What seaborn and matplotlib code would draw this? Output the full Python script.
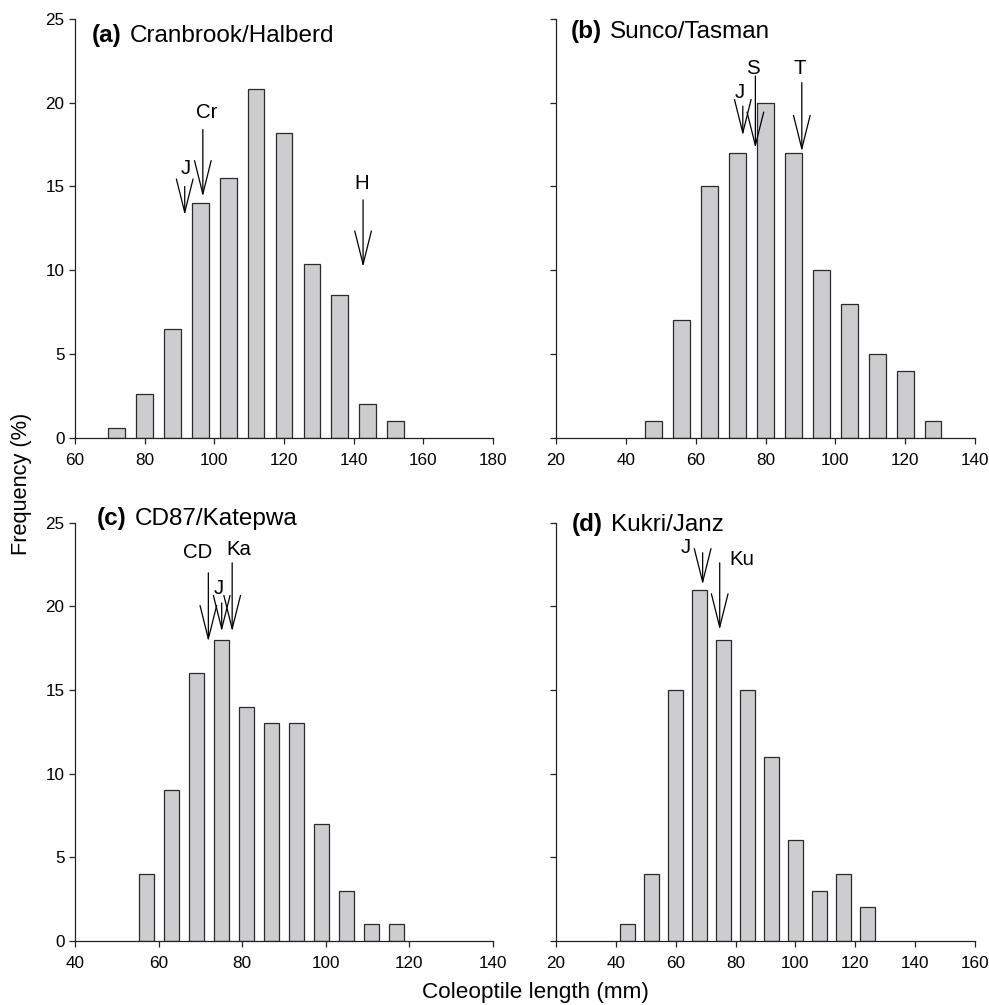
import matplotlib
matplotlib.use("Agg")
import matplotlib.pyplot as plt
import seaborn as sns
import pandas as pd

# ---------------- data ----------------
a_len = [72, 80, 88, 96, 104, 112, 120, 128, 136, 144, 152]
a_freq = [0.6, 2.6, 6.5, 14.0, 15.5, 20.8, 18.2, 10.4, 8.5, 2.0, 1.0]
b_len = [48, 56, 64, 72, 80, 88, 96, 104, 112, 120, 128]
b_freq = [1, 7, 15, 17, 20, 17, 10, 8, 5, 4, 1]
c_len = [57, 63, 69, 75, 81, 87, 93, 99, 105, 111, 117]
c_freq = [4, 9, 16, 18, 14, 13, 13, 7, 3, 1, 1]
d_len = [44, 52, 60, 68, 76, 84, 92, 100, 108, 116, 124]
d_freq = [1, 4, 15, 21, 18, 15, 11, 6, 3, 4, 2]

panel_tags = ["(a)", "(b)", "(c)", "(d)"]
panel_names = ["Cranbrook/Halberd", "Sunco/Tasman", "CD87/Katepwa", "Kukri/Janz"]
x_ticks_a = [60, 80, 100, 120, 140, 160, 180]
x_ticks_b = [20, 40, 60, 80, 100, 120, 140]
x_ticks_c = [40, 60, 80, 100, 120, 140]
x_ticks_d = [20, 40, 60, 80, 100, 120, 140, 160]
y_ticks = [0, 5, 10, 15, 20, 25]

# parent means: label, x, arrow tip y, arrow tail y, label x, label y
parents_a = [("J", 91.5, 13.3, 15.0, 91.9, 16.05),
             ("Cr", 96.7, 14.4, 18.4, 97.9, 19.4),
             ("H", 142.7, 10.2, 14.2, 142.3, 15.2)]
parents_b = [("J", 73.5, 18.05, 19.8, 72.5, 20.6),
             ("S", 77.1, 17.3, 21.6, 76.3, 22.05),
             ("T", 90.4, 17.1, 21.2, 89.7, 22.05)]
parents_c = [("CD", 71.9, 17.9, 22.0, 69.3, 23.2),
             ("J", 75.1, 18.5, 20.2, 74.5, 21.05),
             ("Ka", 77.6, 18.5, 22.6, 79.2, 23.4)]
parents_d = [("J", 69.0, 21.3, 23.2, 63.2, 23.5),
             ("Ku", 74.7, 18.6, 22.6, 82.0, 22.8)]

# ---------------- style ----------------
sns.set_style("ticks")
plt.rcParams["font.family"] = ["Liberation Sans", "DejaVu Sans"]
plt.rcParams["axes.linewidth"] = 0.9
plt.rcParams["axes.edgecolor"] = "#222222"
plt.rcParams["text.color"] = "black"
plt.rcParams["axes.labelcolor"] = "black"
plt.rcParams["xtick.labelcolor"] = "black"
plt.rcParams["ytick.labelcolor"] = "black"

BAR = "#cdcdd0"
EDGE = "#2a2a2a"

fig = plt.figure(figsize=(9.89, 10.05), dpi=100)
W, H = 989, 1005
def axrect(l, t, r, b):
    return [l / W, (H - b) / H, (r - l) / W, (b - t) / H]

ax_a = fig.add_axes(axrect(75, 19, 493, 437.7))
ax_b = fig.add_axes(axrect(556, 19, 975, 437.7))
ax_c = fig.add_axes(axrect(75, 522.7, 493, 940.7))
ax_d = fig.add_axes(axrect(556, 522.7, 975, 940.7))

panels = [
    (ax_a, a_len, a_freq, 0.6, x_ticks_a, parents_a, (0.040, 0.946), True),
    (ax_b, b_len, b_freq, 0.6, x_ticks_b, parents_b, (0.035, 0.954), False),
    (ax_c, c_len, c_freq, 0.6, x_ticks_c, parents_c, (0.053, 0.994), True),
    (ax_d, d_len, d_freq, 0.625, x_ticks_d, parents_d, (0.0375, 0.980), False),
]

title_objs = []
for i, (ax, xs, ys, wd, xt, parents, tpos, showy) in enumerate(panels):
    df = pd.DataFrame({"len": xs, "freq": ys})
    sns.barplot(data=df, x="len", y="freq", native_scale=True, width=wd,
                color=BAR, saturation=1, edgecolor=EDGE, linewidth=0.9,
                errorbar=None, ax=ax, zorder=2)
    ax.set_xlim(xt[0], xt[-1])
    ax.set_ylim(0, 25)
    ax.set_xticks(xt)
    ax.set_yticks(y_ticks)
    ax.set_xlabel("")
    ax.set_ylabel("")
    sns.despine(ax=ax)
    ax.tick_params(axis="both", direction="out", length=4, width=0.9,
                   color="#222222", labelsize=12.3, labelcolor="black")
    ax.tick_params(axis="x", pad=7)
    ax.tick_params(axis="y", pad=3.5)
    if not showy:
        ax.tick_params(axis="y", labelleft=False)
    for lab, x, tip, tail, lx, ly in parents:
        ax.annotate("", xy=(x, tip), xytext=(x, tail),
                    arrowprops=dict(arrowstyle="->,head_length=2.4,head_width=0.6",
                                    mutation_scale=10, lw=0.9, color="black",
                                    shrinkA=0, shrinkB=0), zorder=5)
        ax.text(lx, ly, lab, ha="center", va="center", fontsize=14.7,
                color="black", zorder=6)
    t1 = ax.text(tpos[0], tpos[1], panel_tags[i], transform=ax.transAxes,
                 fontsize=17.5, fontweight="bold", ha="left", va="baseline",
                 color="black")
    title_objs.append((ax, t1, panel_names[i], tpos))

fig.text(21.5 / W, (H - 484) / H, "Frequency (%)", rotation=90,
         ha="center", va="center", fontsize=15.7, color="black")
fig.text(535.5 / W, (H - 992) / H, "Coleoptile length (mm)",
         ha="center", va="center", fontsize=16.2, color="black")

# place the regular part of each panel title right after the bold tag
fig.canvas.draw()
renderer = fig.canvas.get_renderer()
for ax, t1, name, tpos in title_objs:
    bb = t1.get_window_extent(renderer=renderer)
    x_ax = ax.transAxes.inverted().transform((bb.x1 + 8, bb.y0))[0]
    ax.text(x_ax, tpos[1], name, transform=ax.transAxes,
            fontsize=17.5, ha="left", va="baseline", color="black")

fig.savefig("out.png", dpi=100)
